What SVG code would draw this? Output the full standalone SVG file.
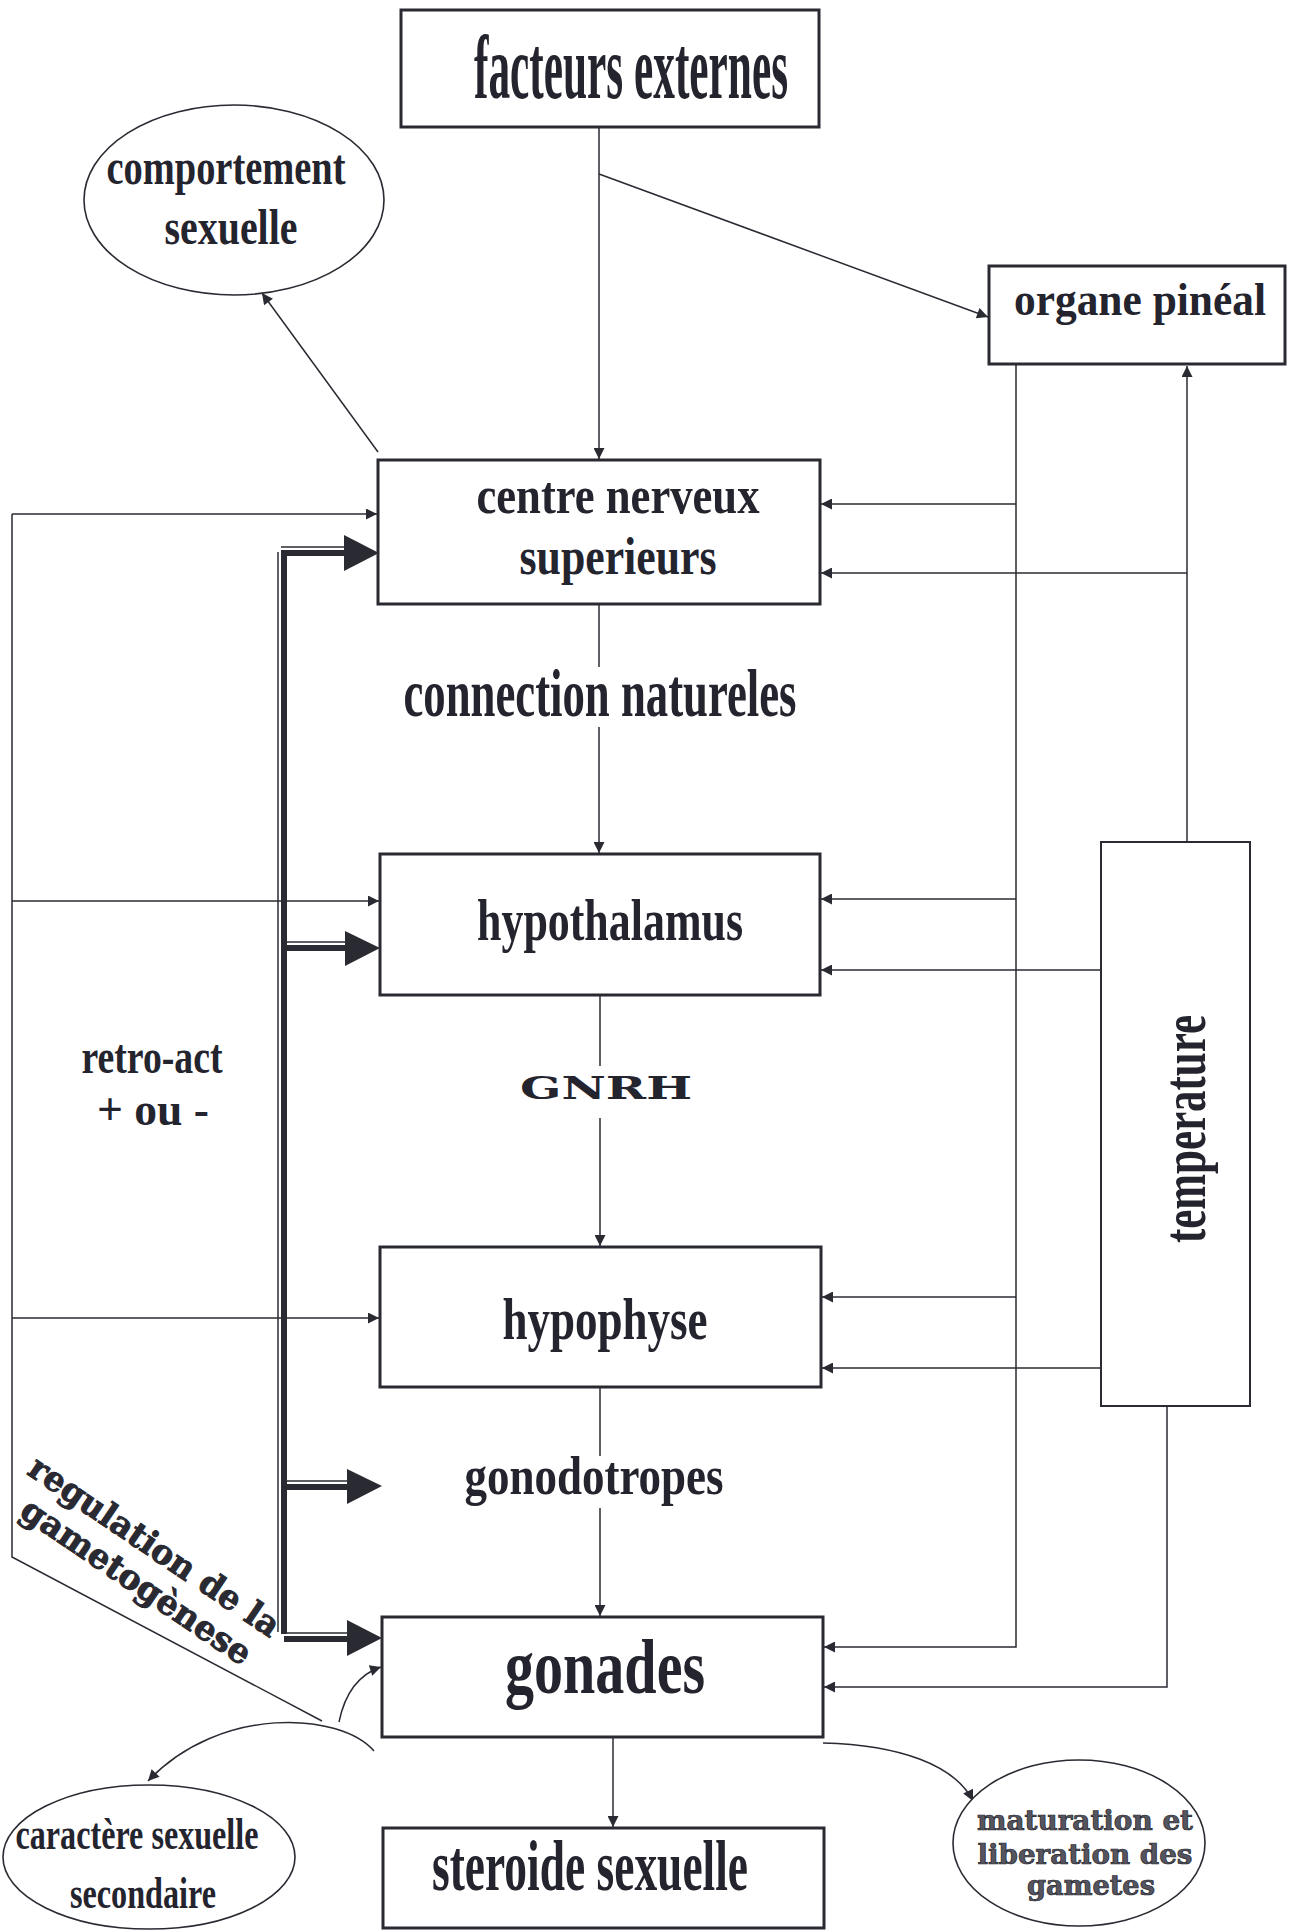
<svg xmlns="http://www.w3.org/2000/svg" width="1290" height="1931" viewBox="0 0 1290 1931">
<style>
.box{fill:#fff;stroke:#2a2a33;stroke-width:3}
.ell{fill:#fff;stroke:#2a2a33;stroke-width:1.6}
.ln{fill:none;stroke:#2a2a33;stroke-width:1.5}
.t{font-family:"Liberation Serif","Times New Roman",serif;font-weight:bold;fill:#24242e;text-anchor:middle}
.w{font-family:"DejaVu Serif","Liberation Serif",serif;font-weight:bold;fill:#24242e;text-anchor:middle}
.o{fill:#55555f;stroke:#22222a;stroke-width:0.7}
.d{fill:#2a2a33;stroke:#22222a;stroke-width:0.8}
.thk{stroke:#2a2a33;stroke-width:6;fill:none}
.thn{stroke:#2a2a33;stroke-width:1.5;fill:none}
.hd{fill:#2a2a33}
</style>
<defs>
<marker id="ah" viewBox="0 0 10 10" refX="10" refY="5" markerUnits="userSpaceOnUse" markerWidth="14" markerHeight="11" orient="auto"><path d="M0,0 L10,5 L0,10 z" fill="#2a2a33"/></marker>
</defs>
<rect width="1290" height="1931" fill="#fff"/>

<g id="connectors">
<line class="ln" x1="599" y1="127" x2="599" y2="459" marker-end="url(#ah)"/>
<line class="ln" x1="599" y1="174" x2="988" y2="317" marker-end="url(#ah)"/>
<line class="ln" x1="378" y1="452" x2="262" y2="293" marker-end="url(#ah)"/>
<line class="ln" x1="599" y1="604" x2="599" y2="667"/>
<line class="ln" x1="599" y1="727" x2="599" y2="853" marker-end="url(#ah)"/>
<line class="ln" x1="600" y1="995" x2="600" y2="1066"/>
<line class="ln" x1="600" y1="1118" x2="600" y2="1246" marker-end="url(#ah)"/>
<line class="ln" x1="600" y1="1388" x2="600" y2="1456"/>
<line class="ln" x1="600" y1="1508" x2="600" y2="1616" marker-end="url(#ah)"/>
<line class="ln" x1="613" y1="1738" x2="613" y2="1827" marker-end="url(#ah)"/>
<polyline class="ln" points="1016,364 1016,1647 824,1647" marker-end="url(#ah)"/>
<line class="ln" x1="1016" y1="504" x2="821" y2="504" marker-end="url(#ah)"/>
<line class="ln" x1="1016" y1="899" x2="821" y2="899" marker-end="url(#ah)"/>
<line class="ln" x1="1016" y1="1297" x2="822" y2="1297" marker-end="url(#ah)"/>
<line class="ln" x1="1187" y1="842" x2="1187" y2="366" marker-end="url(#ah)"/>
<line class="ln" x1="1187" y1="573" x2="821" y2="573" marker-end="url(#ah)"/>
<line class="ln" x1="1101" y1="970" x2="821" y2="970" marker-end="url(#ah)"/>
<line class="ln" x1="1101" y1="1368" x2="822" y2="1368" marker-end="url(#ah)"/>
<polyline class="ln" points="1167,1406 1167,1687 824,1687" marker-end="url(#ah)"/>
<polyline class="ln" points="12,514 12,1557 322,1721"/>
<line class="ln" x1="12" y1="514" x2="377" y2="514" marker-end="url(#ah)"/>
<line class="ln" x1="12" y1="901" x2="379" y2="901" marker-end="url(#ah)"/>
<line class="ln" x1="12" y1="1318" x2="379" y2="1318" marker-end="url(#ah)"/>
<path class="ln" d="M339,1722 Q348,1678 381,1667" marker-end="url(#ah)"/>
<path class="ln" d="M374,1751 C340,1712 220,1705 148,1781" marker-end="url(#ah)"/>
<path class="ln" d="M823,1743 C900,1745 955,1765 973,1801" marker-end="url(#ah)"/>
<g id="double-arrows">
<line class="thn" x1="278" y1="552" x2="278" y2="1632"/>
<line class="thk" x1="284" y1="550" x2="284" y2="1634"/>
<line class="thn" x1="281" y1="547" x2="346" y2="547"/>
<line class="thk" x1="284" y1="553" x2="346" y2="553"/>
<polygon class="hd" points="344,535 379,553 344,571"/>
<line class="thn" x1="287" y1="942" x2="347" y2="942"/>
<line class="thk" x1="284" y1="948" x2="347" y2="948"/>
<polygon class="hd" points="345,931 380,948 345,966"/>
<line class="thn" x1="287" y1="1481" x2="349" y2="1481"/>
<line class="thk" x1="284" y1="1487" x2="349" y2="1487"/>
<polygon class="hd" points="347,1469 382,1486 347,1504"/>
<line class="thn" x1="287" y1="1633" x2="349" y2="1633"/>
<line class="thk" x1="284" y1="1639" x2="349" y2="1639"/>
<polygon class="hd" points="347,1620 382,1638 347,1656"/>
</g>
</g>

<g id="facteurs-externes"><rect class="box" x="401" y="10" width="418" height="117"/>
<text class="t" x="631" y="98" font-size="90" textLength="314" lengthAdjust="spacingAndGlyphs">facteurs externes</text></g>

<g id="comportement-sexuelle"><ellipse class="ell" cx="234" cy="200" rx="150" ry="95"/>
<text class="t" x="226" y="184" font-size="50" textLength="239" lengthAdjust="spacingAndGlyphs">comportement</text>
<text class="t" x="231" y="244" font-size="50" textLength="133" lengthAdjust="spacingAndGlyphs">sexuelle</text></g>

<g id="organe-pineal"><rect class="box" x="989" y="266" width="296" height="98"/>
<text class="t" x="1140" y="315" font-size="46" textLength="252" lengthAdjust="spacingAndGlyphs">organe pinéal</text></g>

<g id="centre-nerveux"><rect class="box" x="378" y="460" width="442" height="144"/>
<text class="t" x="618" y="513" font-size="52" textLength="283" lengthAdjust="spacingAndGlyphs">centre nerveux</text>
<text class="t" x="618" y="574" font-size="52" textLength="197" lengthAdjust="spacingAndGlyphs">superieurs</text></g>

<g id="connection-natureles"><text class="t" x="600" y="716" font-size="68" textLength="393" lengthAdjust="spacingAndGlyphs">connection natureles</text></g>

<g id="hypothalamus"><rect class="box" x="380" y="854" width="440" height="141"/>
<text class="t" x="610" y="940" font-size="60" textLength="266" lengthAdjust="spacingAndGlyphs">hypothalamus</text></g>

<g id="gnrh"><text class="w" x="606" y="1099" font-size="31" textLength="172" lengthAdjust="spacingAndGlyphs">GNRH</text></g>

<g id="hypophyse"><rect class="box" x="380" y="1247" width="441" height="140"/>
<text class="t" x="605" y="1339" font-size="60" textLength="205" lengthAdjust="spacingAndGlyphs">hypophyse</text></g>

<g id="gonodotropes"><text class="t" x="594" y="1494" font-size="54" textLength="259" lengthAdjust="spacingAndGlyphs">gonodotropes</text></g>

<g id="gonades"><rect class="box" x="382" y="1617" width="441" height="120"/>
<text class="t" x="605" y="1693" font-size="78" textLength="200" lengthAdjust="spacingAndGlyphs">gonades</text></g>

<g id="steroide-sexuelle"><rect class="box" x="383" y="1828" width="441" height="100"/>
<text class="t" x="590" y="1890" font-size="72" textLength="316" lengthAdjust="spacingAndGlyphs">steroide sexuelle</text></g>

<g id="temperature"><rect class="box" x="1101" y="842" width="149" height="564" style="stroke-width:2"/>
<text class="t" transform="translate(1205,1129) rotate(-90)" x="0" y="0" font-size="62" textLength="228" lengthAdjust="spacingAndGlyphs">temperature</text></g>

<g id="retro-act"><text class="t" x="152" y="1073" font-size="48" textLength="141" lengthAdjust="spacingAndGlyphs">retro-act</text>
<text class="t" x="153" y="1125" font-size="46" textLength="112" lengthAdjust="spacingAndGlyphs">+  ou -</text></g>

<g id="regulation"><text class="w d" transform="translate(148,1556) rotate(34)" x="0" y="0" font-size="34" textLength="295" lengthAdjust="spacingAndGlyphs">regulation de la</text>
<text class="w d" transform="translate(130,1591) rotate(34)" x="0" y="0" font-size="34" textLength="270" lengthAdjust="spacingAndGlyphs">gametogènese</text></g>

<g id="caractere-sexuelle"><ellipse class="ell" cx="149" cy="1857" rx="146" ry="72"/>
<text class="t" x="137" y="1849" font-size="44" textLength="243" lengthAdjust="spacingAndGlyphs">caractère sexuelle</text>
<text class="t" x="143" y="1908" font-size="44" textLength="146" lengthAdjust="spacingAndGlyphs">secondaire</text></g>

<g id="maturation"><ellipse class="ell" cx="1079" cy="1843" rx="126" ry="83"/>
<text class="w o" x="1085" y="1830" font-size="27" textLength="216" lengthAdjust="spacingAndGlyphs">maturation et</text>
<text class="w o" x="1085" y="1864" font-size="27" textLength="215" lengthAdjust="spacingAndGlyphs">liberation des</text>
<text class="w o" x="1091" y="1895" font-size="27" textLength="128" lengthAdjust="spacingAndGlyphs">gametes</text></g>
</svg>
